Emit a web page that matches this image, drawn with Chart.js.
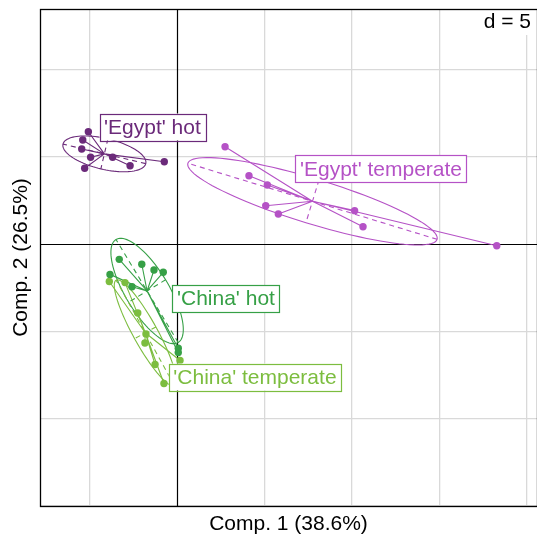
<!DOCTYPE html>
<html>
<head>
<meta charset="utf-8">
<script src="https://cdn.jsdelivr.net/npm/chart.js@4"></script>
<style>
  html, body { margin: 0; padding: 0; background: #ffffff; overflow: hidden; }
  #wrap { width: 537px; height: 535px; }
</style>
</head>
<body>
<div id="wrap"><canvas id="c" width="537" height="535"></canvas></div>
<script>
// Group scores on the first two components
const groupNames = ["'Egypt' hot", "'Egypt' temperate", "'China' hot", "'China' temperate"];
const groupColors = ["#6b2a7a", "#b552c6", "#36a046", "#7cbd3f"];

const egyptHotX = [-5.10, -5.42, -5.48, -4.97, -5.31, -3.71, -2.71, -0.75];
const egyptHotY = [6.43, 5.96, 5.44, 4.97, 4.34, 4.97, 4.48, 4.71];

const egyptTempX = [2.73, 4.10, 5.15, 5.06, 5.78, 10.15, 10.63, 18.29];
const egyptTempY = [5.57, 3.91, 3.38, 2.19, 1.72, 1.91, 0.99, -0.10];

const chinaHotX = [-3.33, -2.04, -1.34, -0.81, -3.86, -2.60, 0.05, 0.05];
const chinaHotY = [-0.88, -1.16, -1.49, -1.62, -1.74, -2.45, -5.97, -6.22];

const chinaTempX = [-3.90, -3.00, -2.27, -1.80, -1.86, -1.28, -0.77, 0.15];
const chinaTempY = [-2.15, -2.21, -3.95, -5.15, -5.67, -6.90, -7.99, -6.67];

// Anchor of each group's text label (data units)
const labelX = [-1.43, 11.66, 2.78, 4.44];
const labelY = [6.70, 4.30, -3.13, -7.62];

const axisTitleX = "Comp. 1 (38.6%)";
const axisTitleY = "Comp. 2 (26.5%)";
const gridStep = 5;
const ellipseCoeff = 1.5;

const xs = [egyptHotX, egyptTempX, chinaHotX, chinaTempX];
const ys = [egyptHotY, egyptTempY, chinaHotY, chinaTempY];

const FONT = '"Liberation Sans", Arial, Helvetica, sans-serif';

function stats(x, y) {
  const n = x.length;
  let mx = 0, my = 0;
  for (let i = 0; i < n; i++) { mx += x[i]; my += y[i]; }
  mx /= n; my /= n;
  let vx = 0, vy = 0, cxy = 0;
  for (let i = 0; i < n; i++) {
    vx += (x[i] - mx) ** 2; vy += (y[i] - my) ** 2; cxy += (x[i] - mx) * (y[i] - my);
  }
  return { mx, my, vx: vx / n, vy: vy / n, cxy: cxy / n };
}

// Inertia ellipse (same construction as ade4's util.ellipse)
function ellipse(s, coeff) {
  const { mx, my, vx, vy, cxy } = s;
  const delta = Math.sqrt((vx - vy) ** 2 + 4 * cxy * cxy);
  let l1 = (vx + vy + delta) / 2;
  let l2 = vx + vy - l1;
  l1 = Math.sqrt(Math.max(l1, 0)); l2 = Math.sqrt(Math.max(l2, 0));
  let a0 = 1, b0 = (l1 * l1 - vx) / cxy;
  const nrm = Math.sqrt(a0 * a0 + b0 * b0);
  a0 /= nrm; b0 /= nrm;
  const c11 = coeff * a0 * l1, c12 = -coeff * b0 * l2;
  const c21 = coeff * b0 * l1, c22 = coeff * a0 * l2;
  const pts = [];
  const lig = 100;
  for (let i = 0; i < lig; i++) {
    const a = 2 * Math.PI * i / lig;
    pts.push({ x: mx + c11 * Math.cos(a) + c12 * Math.sin(a), y: my + c21 * Math.cos(a) + c22 * Math.sin(a) });
  }
  return {
    pts,
    seg1: [mx + c11, my + c21, mx - c11, my - c21],
    seg2: [mx + c12, my + c22, mx - c12, my - c22]
  };
}

const groupStats = xs.map((x, g) => stats(x, ys[g]));

const classPlugin = {
  id: 'classPlugin',
  beforeDatasetsDraw(chart) {
    const { ctx, chartArea: a, scales: { x: sx, y: sy } } = chart;
    ctx.save();
    ctx.beginPath();
    ctx.rect(a.left, a.top, a.right - a.left, a.bottom - a.top);
    ctx.clip();
    // origin axes
    ctx.strokeStyle = '#000000';
    ctx.lineWidth = 1.2;
    ctx.beginPath();
    const x0 = Math.round(sx.getPixelForValue(0)) + 0.5;
    const y0 = Math.round(sy.getPixelForValue(0)) + 0.5;
    ctx.moveTo(x0, a.top); ctx.lineTo(x0, a.bottom);
    ctx.moveTo(a.left, y0); ctx.lineTo(a.right, y0);
    ctx.stroke();

    groupStats.forEach((s, g) => {
      const col = groupColors[g];
      const e = ellipse(s, ellipseCoeff);
      ctx.strokeStyle = col;
      ctx.lineWidth = 1.1;
      ctx.setLineDash([]);
      ctx.beginPath();
      e.pts.forEach((p, i) => {
        const px = sx.getPixelForValue(p.x), py = sy.getPixelForValue(p.y);
        if (i === 0) ctx.moveTo(px, py); else ctx.lineTo(px, py);
      });
      ctx.closePath();
      ctx.stroke();
      // ellipse axes
      ctx.setLineDash([5, 4]);
      ctx.beginPath();
      [e.seg1, e.seg2].forEach(sg => {
        ctx.moveTo(sx.getPixelForValue(sg[0]), sy.getPixelForValue(sg[1]));
        ctx.lineTo(sx.getPixelForValue(sg[2]), sy.getPixelForValue(sg[3]));
      });
      ctx.stroke();
      ctx.setLineDash([]);
      // stars
      ctx.beginPath();
      const cx = sx.getPixelForValue(s.mx), cy = sy.getPixelForValue(s.my);
      xs[g].forEach((xv, i) => {
        ctx.moveTo(cx, cy);
        ctx.lineTo(sx.getPixelForValue(xv), sy.getPixelForValue(ys[g][i]));
      });
      ctx.stroke();
    });
    ctx.restore();
  },
  afterDatasetsDraw(chart) {
    const { ctx, chartArea: a, scales: { x: sx, y: sy } } = chart;
    ctx.save();
    ctx.font = '21px ' + FONT;
    ctx.textBaseline = 'middle';
    ctx.textAlign = 'center';
    groupNames.forEach((name, g) => {
      const px = sx.getPixelForValue(labelX[g]);
      const py = sy.getPixelForValue(labelY[g]);
      const w = ctx.measureText(name).width + 9;
      const h = 27;
      ctx.fillStyle = '#ffffff';
      ctx.fillRect(px - w / 2, py - h / 2, w, h);
      ctx.strokeStyle = groupColors[g];
      ctx.lineWidth = 1.2;
      ctx.strokeRect(Math.round(px - w / 2) + 0.5, Math.round(py - h / 2) + 0.5, Math.round(w), h);
      ctx.fillStyle = groupColors[g];
      ctx.fillText(name, px, py + 1);
    });

    // scale legend box
    ctx.fillStyle = '#ffffff';
    ctx.fillRect(478, a.top + 1, a.right - 478, 25);
    ctx.fillStyle = '#000000';
    ctx.textAlign = 'right';
    ctx.fillText('d = ' + gridStep, 531, a.top + 13);

    // frame
    ctx.strokeStyle = '#000000';
    ctx.lineWidth = 1.3;
    ctx.strokeRect(a.left + 0.5, a.top + 0.5, a.right - a.left, a.bottom - a.top);

    // axis titles
    ctx.fillStyle = '#000000';
    ctx.textAlign = 'center';
    ctx.fillText(axisTitleX, (a.left + a.right) / 2, 524);
    ctx.translate(21, (a.top + a.bottom) / 2);
    ctx.rotate(-Math.PI / 2);
    ctx.fillText(axisTitleY, 0, 0);
    ctx.restore();
  }
};

const datasets = groupNames.map((name, g) => ({
  label: name,
  data: xs[g].map((xv, i) => ({ x: xv, y: ys[g][i] })),
  backgroundColor: groupColors[g],
  borderColor: groupColors[g],
  borderWidth: 0,
  pointRadius: 3.7,
  pointHoverRadius: 3.7
}));

const gridColor = ctx => (ctx.tick && ctx.tick.value === 0) ? 'rgba(0,0,0,0)' : '#d9d9d9';

new Chart(document.getElementById('c'), {
  type: 'scatter',
  data: { datasets },
  options: {
    responsive: false,
    animation: false,
    events: [],
    layout: { autoPadding: false, padding: { left: 40, top: 9, right: 0, bottom: 29 } },
    plugins: { legend: { display: false }, tooltip: { enabled: false } },
    scales: {
      x: {
        type: 'linear', min: -7.869, max: 20.595,
        ticks: { display: false, stepSize: gridStep, includeBounds: false },
        grid: { color: gridColor, lineWidth: 1.3, drawTicks: false },
        border: { display: false },
        afterFit: s => { s.height = 0; }
      },
      y: {
        type: 'linear', min: -15.006, max: 13.459,
        ticks: { display: false, stepSize: gridStep, includeBounds: false },
        grid: { color: gridColor, lineWidth: 1.3, drawTicks: false },
        border: { display: false },
        afterFit: s => { s.width = 0; }
      }
    }
  },
  plugins: [classPlugin]
});
</script>
</body>
</html>
